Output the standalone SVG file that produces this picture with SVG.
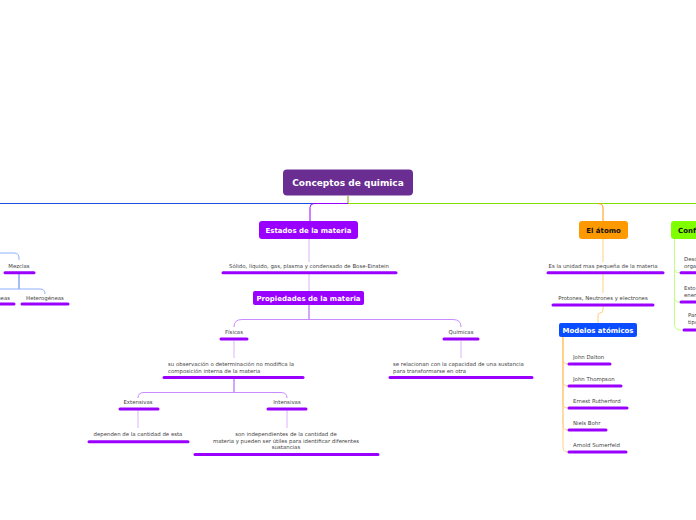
<svg xmlns="http://www.w3.org/2000/svg" width="696" height="520" viewBox="0 0 696 520">
<style>
.t{font-family:"DejaVu Sans",Verdana,sans-serif;font-size:5.4px;fill:#444}
.n{font-family:"DejaVu Sans",Verdana,sans-serif;font-weight:bold;font-size:7px;fill:#fff}
.bar{stroke:#9900ff;stroke-width:3;stroke-linecap:round;fill:none}
.c{fill:none;stroke-width:1}
.pl{stroke:#dcb3ff}
.pm{stroke:#c98cff}
.ol{stroke:#ffcf85}
.gl{stroke:#c2ff80}
.bl{stroke:#8fb0ff}
</style>
<rect width="696" height="520" fill="#fff"/>
<g id="connectors">
<path class="c" d="M0,203.5 H348" stroke="#1f4fe0"/>
<path class="c" d="M348,203.5 H696" stroke="#80e000"/>
<path class="c" d="M348,196 V203.5" stroke="#8a9e00" stroke-width="2"/>
<path class="c" d="M348,203.5 H314 Q310,203.5 310,207.5 V221" stroke="#9900ff"/>
<path class="c pl" d="M309,239 V262"/>
<path class="c pl" d="M309,274 V291"/>
<path class="c" d="M309,305 V319.5" stroke="#a64dff"/>
<path class="c pm" d="M234,327 Q234,319.5 242,319.5 H453 Q461,319.5 461,327"/>
<path class="c pl" d="M234,341 V358"/>
<path class="c pl" d="M461,341 V358"/>
<path class="c" d="M234,378 V392.5" stroke="#a64dff"/>
<path class="c pm" d="M138,398 Q138,392.5 144,392.5 H281 Q287,392.5 287,398"/>
<path class="c pl" d="M138,410 V428"/>
<path class="c pl" d="M287,410 V428"/>
<path class="c" d="M598,203.5 Q603,203.5 603,208 V221" stroke="#ff9900"/>
<path class="c ol" d="M603,239 V262"/>
<path class="c ol" d="M603,274 V293"/>
<path class="c ol" d="M603,306 V310 Q603,313 600,313 Q598,313 598,316 V323"/>
<path class="c ol" d="M563,337 V359 Q563,364 568,364"/>
<path class="c ol" d="M563,337 V381 Q563,386 568,386"/>
<path class="c ol" d="M563,337 V403 Q563,408 568,408"/>
<path class="c ol" d="M563,337 V425 Q563,430 568,430"/>
<path class="c ol" d="M563,337 V447 Q563,452 568,452"/>
<path class="c gl" d="M674.5,239 V268 Q674.5,272.7 679,272.7"/>
<path class="c gl" d="M674.5,239 V297 Q674.5,302 679,302"/>
<path class="c gl" d="M674.5,239 V325 Q674.5,330 681,330"/>
<path class="c bl" d="M0,253 H14 Q19,253 19,258 V260"/>
<path class="c" d="M19,274 V289" stroke="#4a7cf0"/>
<path class="c bl" d="M0,289 H40 Q45,289 45,294"/>
</g>
<g id="root">
<rect x="283" y="169.5" width="130" height="26" rx="4" fill="#6a2d91"/>
<text class="n" x="348" y="186" text-anchor="middle" style="font-size:9px">Conceptos de quimica</text>
</g>
<g id="estados">
<rect x="259" y="221" width="99" height="18" rx="3" fill="#9900ff"/>
<text class="n" x="308.5" y="232.5" text-anchor="middle">Estados de la materia</text>
</g>
<g id="solido">
<text class="t" x="309" y="268" text-anchor="middle">Sólido, líquido, gas, plasma y condensado de Bose-Einstein</text>
<line class="bar" x1="223" y1="272.7" x2="396" y2="272.7"/>
</g>
<g id="propiedades">
<rect x="253" y="291" width="111" height="14" rx="2" fill="#9900ff"/>
<text class="n" x="308.5" y="300.5" text-anchor="middle">Propiedades de la materia</text>
</g>
<g id="fisicas">
<text class="t" x="234" y="334" text-anchor="middle">Físicas</text>
<line class="bar" x1="221" y1="339" x2="247" y2="339"/>
</g>
<g id="quimicas">
<text class="t" x="461" y="334" text-anchor="middle">Químicas</text>
<line class="bar" x1="444" y1="339" x2="478" y2="339"/>
</g>
<g id="fis-desc">
<text class="t" x="168" y="366">su observación o determinación no modifica la</text>
<text class="t" x="168" y="372.5">composición interna de la materia</text>
<line class="bar" x1="164" y1="377.5" x2="303" y2="377.5"/>
</g>
<g id="qui-desc">
<text class="t" x="393" y="366">se relacionan con la capacidad de una sustancia</text>
<text class="t" x="393" y="372.5">para transformarse en otra</text>
<line class="bar" x1="390" y1="377.5" x2="532" y2="377.5"/>
</g>
<g id="extensivas">
<text class="t" x="138" y="404" text-anchor="middle">Extensivas</text>
<line class="bar" x1="120" y1="409" x2="158" y2="409"/>
</g>
<g id="intensivas">
<text class="t" x="287" y="404" text-anchor="middle">Intensivas</text>
<line class="bar" x1="268" y1="409" x2="306" y2="409"/>
</g>
<g id="ext-desc">
<text class="t" x="138" y="436" text-anchor="middle">dependen de la cantidad de esta</text>
<line class="bar" x1="89" y1="441.7" x2="188" y2="441.7"/>
</g>
<g id="int-desc">
<text class="t" x="286" y="436" text-anchor="middle">son independientes de la cantidad de</text>
<text class="t" x="286" y="442.5" text-anchor="middle">materia y pueden ser útiles para identificar diferentes</text>
<text class="t" x="286" y="449" text-anchor="middle">sustancias</text>
<line class="bar" x1="195" y1="454.5" x2="378" y2="454.5"/>
</g>
<g id="atomo">
<rect x="579" y="221" width="49" height="18" rx="3" fill="#ff9900"/>
<text class="n" x="603.5" y="232.5" text-anchor="middle" style="fill:#111">El átomo</text>
</g>
<g id="atomo-def">
<text class="t" x="603" y="268" text-anchor="middle">Es la unidad mas pequeña de la materia</text>
<line class="bar" x1="548" y1="272.7" x2="663" y2="272.7"/>
</g>
<g id="particulas">
<text class="t" x="603" y="299.5" text-anchor="middle">Protones, Neutrones y electrones</text>
<line class="bar" x1="553" y1="305" x2="653" y2="305"/>
</g>
<g id="modelos">
<rect x="559" y="323" width="78" height="14" rx="2" fill="#0a4cff"/>
<text class="n" x="598" y="332.5" text-anchor="middle">Modelos atómicos</text>
</g>
<g id="dalton">
<text class="t" x="573" y="358.5">John Dalton</text>
<line class="bar" x1="569" y1="364" x2="610" y2="364"/>
</g>
<g id="thompson">
<text class="t" x="573" y="381">John Thompson</text>
<line class="bar" x1="569" y1="386" x2="621" y2="386"/>
</g>
<g id="rutherford">
<text class="t" x="573" y="402.5">Ernest Rutherford</text>
<line class="bar" x1="569" y1="408" x2="627" y2="408"/>
</g>
<g id="bohr">
<text class="t" x="573" y="424.5">Niels Bohr</text>
<line class="bar" x1="569" y1="430" x2="606" y2="430"/>
</g>
<g id="sumerfeld">
<text class="t" x="573" y="447">Arnold Sumerfeld</text>
<line class="bar" x1="569" y1="452" x2="626" y2="452"/>
</g>
<g id="configuracion">
<rect x="671" y="221" width="60" height="18" rx="3" fill="#80ff00"/>
<text class="n" x="678" y="232.5" style="fill:#111">Configuración electrónica</text>
</g>
<g id="conf-1">
<text class="t" x="684" y="261">Describe</text>
<text class="t" x="684" y="267.5">organización</text>
<line class="bar" x1="681" y1="272.7" x2="700" y2="272.7"/>
</g>
<g id="conf-2">
<text class="t" x="684" y="290">Esto</text>
<text class="t" x="684" y="296.5">energía</text>
<line class="bar" x1="681" y1="302" x2="700" y2="302"/>
</g>
<g id="conf-3">
<text class="t" x="688" y="317">Para</text>
<text class="t" x="688" y="323.5">tipo</text>
<line class="bar" x1="684" y1="330" x2="700" y2="330"/>
</g>
<g id="mezclas">
<text class="t" x="19" y="268" text-anchor="middle">Mezclas</text>
<line class="bar" x1="5" y1="272.7" x2="34" y2="272.7"/>
</g>
<g id="homogeneas">
<text class="t" x="10" y="299.5" text-anchor="end">Homogéneas</text>
<line class="bar" x1="-20" y1="304" x2="14" y2="304"/>
</g>
<g id="heterogeneas">
<text class="t" x="45" y="299.5" text-anchor="middle">Heterogéneas</text>
<line class="bar" x1="22" y1="304" x2="68" y2="304"/>
</g>
</svg>
